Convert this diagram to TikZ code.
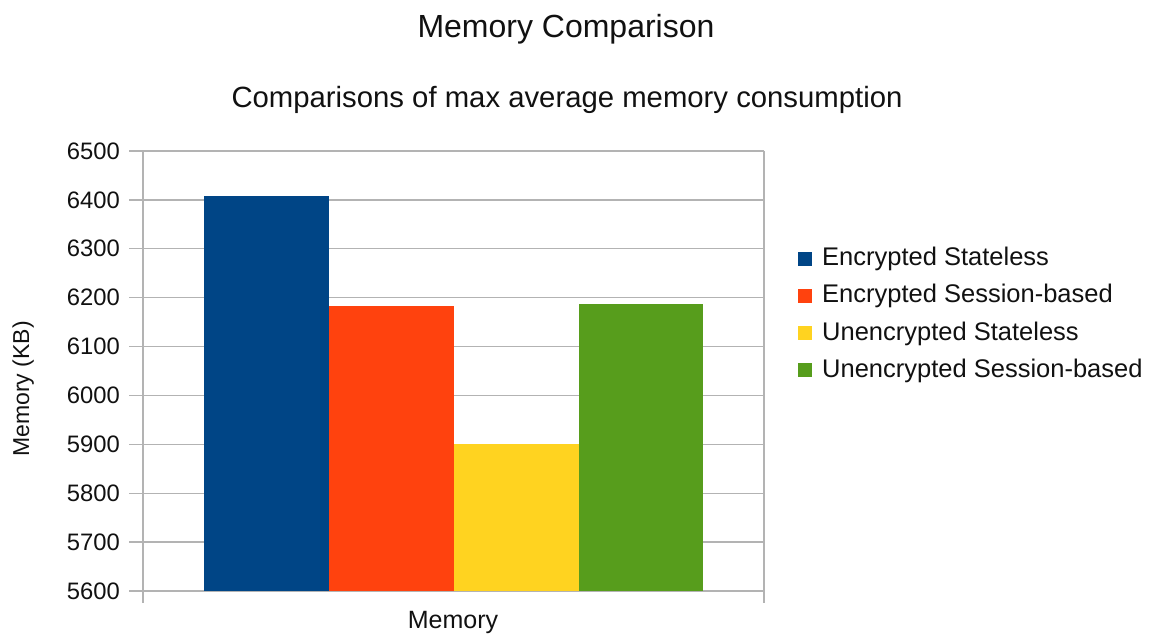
\documentclass[tikz,border=0pt]{standalone}
\usepackage{fontspec}
\setmainfont{Liberation Sans}
\definecolor{serA}{HTML}{004586}
\definecolor{serB}{HTML}{FF420E}
\definecolor{serC}{HTML}{FFD320}
\definecolor{serD}{HTML}{579D1C}
\definecolor{gridgray}{HTML}{B3B3B3}
\definecolor{txt}{HTML}{111111}
\begin{document}
\begin{tikzpicture}[x=1pt,y=-1pt,
  gridline/.style={draw=gridgray,line width=1.4pt},
  bar/.style={draw=none},
  ticklabel/.style={anchor=east,inner sep=0pt,text=txt,font=\fontsize{23.8}{28}\selectfont},
  legtext/.style={anchor=base west,inner sep=0pt,text=txt,font=\fontsize{25.5}{30}\selectfont},
  legkey/.style={draw=none},
  axislabel/.style={anchor=base,inner sep=0pt,text=txt,font=\fontsize{25}{30}\selectfont}]
\useasboundingbox (0,0) rectangle (1151,636);
\fill[white] (0,0) rectangle (1151,636);

% titles
\node[anchor=base,inner sep=0pt,text=txt,font=\fontsize{32}{38}\selectfont] (title) at (566,38) {Memory Comparison};
\node[anchor=base,inner sep=0pt,text=txt,font=\fontsize{29.3}{35}\selectfont] (subtitle) at (567,108) {Comparisons of max average memory consumption};

% horizontal grid and value labels
\foreach \v in {5600,5700,...,6500}{
  \pgfmathsetmacro\yy{591-(\v-5600)*0.48889}
  \draw[gridline] (129,\yy) -- (764,\yy);
  \node[ticklabel] (tick\v) at (120,\yy) {\v};
}
% vertical frame lines
\draw[gridline] (143,151) -- (143,603);
\draw[gridline] (764,151) -- (764,603);

% bars
\newcommand{\valy}[1]{591-(#1-5600)*0.48889}
\pgfmathsetmacro\ya{\valy{6408}}
\pgfmathsetmacro\yb{\valy{6183}}
\pgfmathsetmacro\yc{\valy{5900}}
\pgfmathsetmacro\yd{\valy{6188}}
\fill[bar,serA] (204,\ya) rectangle (329,590.5);
\fill[bar,serB] (329,\yb) rectangle (454,590.5);
\fill[bar,serC] (454,\yc) rectangle (579,590.5);
\fill[bar,serD] (579,\yd) rectangle (703,590.5);

% axis titles
\node[axislabel] (xlab) at (453,628) {Memory};
\node[axislabel,rotate=90,font=\fontsize{23}{28}\selectfont] (ylab) at (29,389) {Memory (KB)};

% legend
\foreach \c/\t/\b in {serA/Encrypted Stateless/266,
                      serB/Encrypted Session-based/303,
                      serC/Unencrypted Stateless/340,
                      serD/Unencrypted Session-based/377}{
  \fill[legkey,\c] (798,\b-14) rectangle (812,\b);
  \node[legtext] at (822,\b) {\t};
}
\end{tikzpicture}
\end{document}
